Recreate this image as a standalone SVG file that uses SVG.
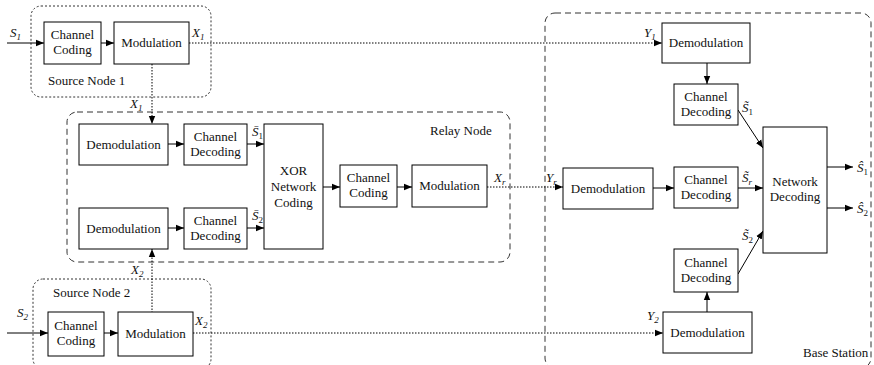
<svg xmlns="http://www.w3.org/2000/svg" width="874" height="365" viewBox="0 0 874 365">
<style>
.box{fill:#fff;stroke:#000;stroke-width:1}
.t{font-size:13px;fill:#111;text-anchor:middle}
.l{font-size:13px;fill:#111}
.i{font-size:13px;font-style:italic;fill:#111}
.sub{font-size:9px}
.dotc{fill:none;stroke:#333;stroke-width:1;stroke-dasharray:2 2}
.dashc{fill:none;stroke:#333;stroke-width:1;stroke-dasharray:6 4}
.w{fill:none;stroke:#000;stroke-width:1}
.d{fill:none;stroke:#000;stroke-width:1;stroke-dasharray:1.5 1.5}
</style>
<defs>
<marker id="a" viewBox="0 0 10 10" refX="10" refY="5" markerWidth="8" markerHeight="8" markerUnits="userSpaceOnUse" orient="auto">
<path d="M0,1 L10,5 L0,9 Z" fill="#000"/>
</marker>
</defs>
<g font-family="'Liberation Serif', 'Times New Roman', serif">
<g id="containers">
<rect id="source1" class="dotc" x="31" y="6" width="180" height="91" rx="10"/>
<rect id="relay" class="dashc" x="67" y="112" width="443" height="150" rx="10"/>
<rect id="source2" class="dotc" x="33" y="279" width="178" height="90" rx="10"/>
<rect id="basestation" class="dashc" x="545" y="13" width="326" height="355" rx="10"/>
<text class="l" x="48" y="85">Source Node 1</text>
<text class="l" x="430" y="135">Relay Node</text>
<text class="l" x="53" y="297">Source Node 2</text>
<text class="l" x="803" y="357">Base Station</text>
</g>

<g id="connectors">
<line class="w" x1="7" y1="43" x2="44" y2="43" marker-end="url(#a)"/>
<line class="w" x1="101" y1="43" x2="114" y2="43" marker-end="url(#a)"/>
<line class="d" x1="189" y1="43" x2="662" y2="43" marker-end="url(#a)"/>
<line class="d" x1="152" y1="64" x2="152" y2="124" marker-end="url(#a)"/>
<line class="w" x1="168" y1="144" x2="184" y2="144" marker-end="url(#a)"/>
<line class="w" x1="247" y1="144" x2="264" y2="144" marker-end="url(#a)"/>
<line class="w" x1="168" y1="228" x2="184" y2="228" marker-end="url(#a)"/>
<line class="w" x1="247" y1="228" x2="264" y2="228" marker-end="url(#a)"/>
<line class="w" x1="323" y1="187" x2="340" y2="187" marker-end="url(#a)"/>
<line class="w" x1="397" y1="187" x2="412" y2="187" marker-end="url(#a)"/>
<line class="d" x1="487" y1="187" x2="563" y2="187" marker-end="url(#a)"/>
<line class="w" x1="7" y1="333" x2="48" y2="333" marker-end="url(#a)"/>
<line class="w" x1="104" y1="333" x2="118" y2="333" marker-end="url(#a)"/>
<line class="d" x1="193" y1="333" x2="663" y2="333" marker-end="url(#a)"/>
<line class="d" x1="152" y1="313" x2="152" y2="249" marker-end="url(#a)"/>
<line class="w" x1="707" y1="63" x2="707" y2="84" marker-end="url(#a)"/>
<line class="w" x1="738" y1="110" x2="763" y2="148" marker-end="url(#a)"/>
<line class="w" x1="653" y1="188" x2="674" y2="188" marker-end="url(#a)"/>
<line class="w" x1="738" y1="188" x2="763" y2="188" marker-end="url(#a)"/>
<line class="w" x1="738" y1="274" x2="763" y2="231" marker-end="url(#a)"/>
<line class="w" x1="707" y1="312" x2="707" y2="292" marker-end="url(#a)"/>
<line class="w" x1="827" y1="167" x2="853" y2="167" marker-end="url(#a)"/>
<line class="w" x1="827" y1="208" x2="853" y2="208" marker-end="url(#a)"/>
</g>

<g id="labels">
<text class="i" x="10" y="37">S<tspan class="sub" dy="3">1</tspan></text>
<text class="i" x="192" y="37">X<tspan class="sub" dy="3">1</tspan></text>
<text class="i" x="130" y="108">X<tspan class="sub" dy="3">1</tspan></text>
<text class="i" x="252" y="136">S&#x0304;<tspan class="sub" dy="3" font-style="normal">1</tspan></text>
<text class="i" x="252" y="220">S&#x0304;<tspan class="sub" dy="3" font-style="normal">2</tspan></text>
<text class="i" x="494" y="182">X<tspan class="sub" dy="3">r</tspan></text>
<text class="i" x="131" y="274">X<tspan class="sub" dy="3">2</tspan></text>
<text class="i" x="17" y="317">S<tspan class="sub" dy="3">2</tspan></text>
<text class="i" x="195" y="325">X<tspan class="sub" dy="3">2</tspan></text>
<text class="i" x="644" y="37">Y<tspan class="sub" dy="3">1</tspan></text>
<text class="i" x="546" y="182">Y<tspan class="sub" dy="3">r</tspan></text>
<text class="i" x="647" y="320">Y<tspan class="sub" dy="3">2</tspan></text>
<text class="i" x="742" y="112">S&#x0303;<tspan class="sub" dy="3" font-style="normal">1</tspan></text>
<text class="i" x="742" y="182">S&#x0303;<tspan class="sub" dy="3">r</tspan></text>
<text class="i" x="742" y="240">S&#x0303;<tspan class="sub" dy="3" font-style="normal">2</tspan></text>
<text class="i" x="857" y="172">&#x015C;<tspan class="sub" dy="3" font-style="normal">1</tspan></text>
<text class="i" x="857" y="213">&#x015C;<tspan class="sub" dy="3" font-style="normal">2</tspan></text>
</g>

<g id="s1-coding"><rect class="box" x="44" y="22" width="57" height="42"/><text class="t" x="72.5" y="39">Channel</text><text class="t" x="72.5" y="54">Coding</text></g>
<g id="s1-mod"><rect class="box" x="114" y="22" width="75" height="42"/><text class="t" x="151.5" y="47">Modulation</text></g>

<g id="r-demod1"><rect class="box" x="79" y="124" width="89" height="41"/><text class="t" x="123.5" y="149">Demodulation</text></g>
<g id="r-dec1"><rect class="box" x="184" y="124" width="63" height="41"/><text class="t" x="215.5" y="141">Channel</text><text class="t" x="215.5" y="156">Decoding</text></g>
<g id="r-demod2"><rect class="box" x="79" y="208" width="89" height="41"/><text class="t" x="123.5" y="233">Demodulation</text></g>
<g id="r-dec2"><rect class="box" x="184" y="208" width="63" height="41"/><text class="t" x="215.5" y="225">Channel</text><text class="t" x="215.5" y="240">Decoding</text></g>
<g id="r-xor"><rect class="box" x="264" y="124" width="59" height="125"/><text class="t" x="293.5" y="175">XOR</text><text class="t" x="293.5" y="191">Network</text><text class="t" x="293.5" y="207">Coding</text></g>
<g id="r-coding"><rect class="box" x="340" y="165" width="57" height="42"/><text class="t" x="368.5" y="182">Channel</text><text class="t" x="368.5" y="197">Coding</text></g>
<g id="r-mod"><rect class="box" x="412" y="165" width="75" height="42"/><text class="t" x="449.5" y="190">Modulation</text></g>

<g id="s2-coding"><rect class="box" x="48" y="312" width="56" height="44"/><text class="t" x="76" y="330">Channel</text><text class="t" x="76" y="345">Coding</text></g>
<g id="s2-mod"><rect class="box" x="118" y="312" width="75" height="44"/><text class="t" x="155.5" y="338">Modulation</text></g>

<g id="b-demod1"><rect class="box" x="662" y="23" width="88" height="40"/><text class="t" x="706" y="47">Demodulation</text></g>
<g id="b-dec1"><rect class="box" x="674" y="84" width="64" height="41"/><text class="t" x="706" y="101">Channel</text><text class="t" x="706" y="116">Decoding</text></g>
<g id="b-demodr"><rect class="box" x="563" y="168" width="90" height="41"/><text class="t" x="608" y="193">Demodulation</text></g>
<g id="b-decr"><rect class="box" x="674" y="167" width="64" height="41"/><text class="t" x="706" y="184">Channel</text><text class="t" x="706" y="199">Decoding</text></g>
<g id="b-dec2"><rect class="box" x="674" y="249" width="64" height="43"/><text class="t" x="706" y="267">Channel</text><text class="t" x="706" y="282">Decoding</text></g>
<g id="b-demod2"><rect class="box" x="663" y="312" width="89" height="41"/><text class="t" x="707.5" y="337">Demodulation</text></g>
<g id="b-netdec"><rect class="box" x="763" y="127" width="64" height="126"/><text class="t" x="795" y="186">Network</text><text class="t" x="795" y="201">Decoding</text></g>
</g>
</svg>
